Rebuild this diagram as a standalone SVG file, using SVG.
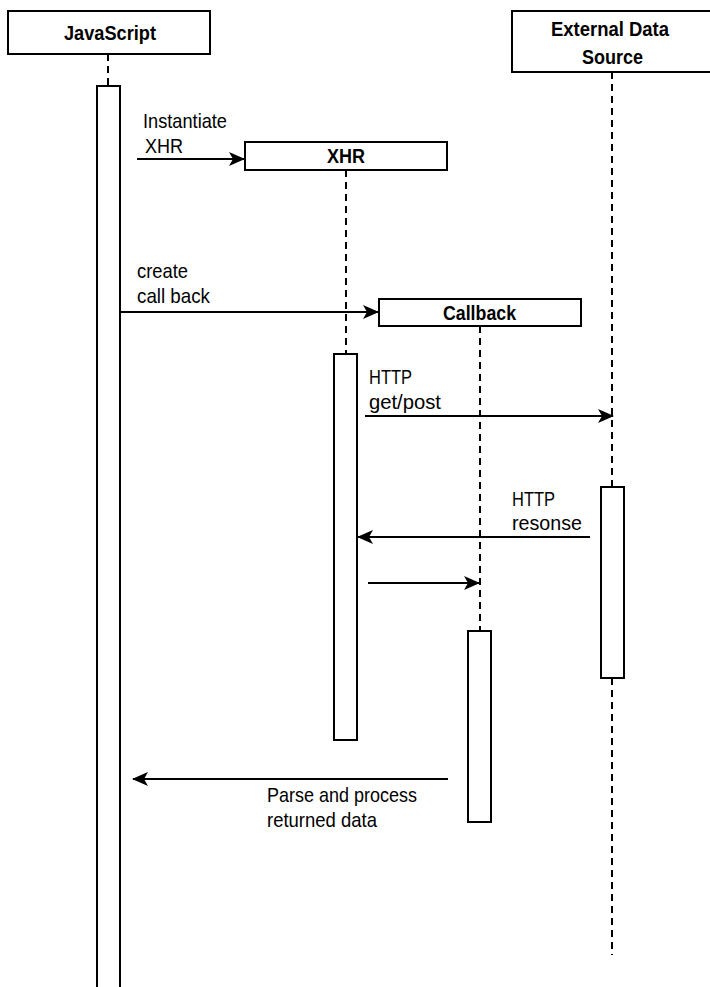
<svg xmlns="http://www.w3.org/2000/svg" width="710" height="987" viewBox="0 0 710 987">
<style>
.box{fill:#fff;stroke:#000;stroke-width:2}
.life{stroke:#000;stroke-width:2;stroke-dasharray:7 5;fill:none}
.msg{stroke:#000;stroke-width:2;fill:none;marker-end:url(#ah)}
.t{font-family:"Liberation Sans",Arial,sans-serif;font-size:21px;fill:#000}
.b{font-weight:bold;font-size:20px}
</style>
<defs>
<marker id="ah" markerWidth="16" markerHeight="14" refX="15" refY="7" orient="auto" markerUnits="userSpaceOnUse">
<path d="M0,0 L16,7 L0,14 L4,7 Z" fill="#000"/>
</marker>
</defs>
<rect width="710" height="987" fill="#fff"/>
<g id="lifelines">
<line class="life" x1="108" y1="54" x2="108" y2="86"/>
<line class="life" x1="346" y1="170" x2="346" y2="354"/>
<line class="life" x1="480" y1="326" x2="480" y2="630"/>
<line class="life" x1="612" y1="72" x2="612" y2="486"/>
<line class="life" x1="612" y1="678" x2="612" y2="955"/>
</g>
<g id="javascript">
<rect class="box" x="8" y="11" width="202" height="43"/>
<text class="t b" x="64" y="40" textLength="92" lengthAdjust="spacingAndGlyphs">JavaScript</text>
<rect class="box" x="97" y="86" width="23" height="910"/>
</g>
<g id="external">
<rect class="box" x="512" y="11" width="210" height="61"/>
<text class="t b" x="551" y="36" textLength="118" lengthAdjust="spacingAndGlyphs">External Data</text>
<text class="t b" x="582" y="64" textLength="61" lengthAdjust="spacingAndGlyphs">Source</text>
<rect class="box" x="601" y="487" width="23" height="191"/>
</g>
<g id="xhr">
<rect class="box" x="245" y="142" width="202" height="28"/>
<text class="t b" x="327" y="163" textLength="38" lengthAdjust="spacingAndGlyphs">XHR</text>
<rect class="box" x="334" y="354" width="23" height="386"/>
</g>
<g id="callback">
<rect class="box" x="379" y="299" width="202" height="27"/>
<text class="t b" x="443" y="320" textLength="73" lengthAdjust="spacingAndGlyphs">Callback</text>
<rect class="box" x="468" y="631" width="23" height="191"/>
</g>
<g id="connectors">
<line class="msg" x1="137" y1="159" x2="244" y2="159"/>
<line class="msg" x1="120" y1="312" x2="378" y2="312"/>
<line class="msg" x1="365" y1="416" x2="613" y2="416"/>
<line class="msg" x1="590" y1="537" x2="358" y2="537"/>
<line class="msg" x1="368" y1="583" x2="479" y2="583"/>
<line class="msg" x1="448" y1="779" x2="133" y2="779"/>
</g>
<g id="labels">
<text class="t" x="143" y="128" textLength="84" lengthAdjust="spacingAndGlyphs">Instantiate</text>
<text class="t" x="145" y="153" textLength="38" lengthAdjust="spacingAndGlyphs">XHR</text>
<text class="t" x="137" y="278" textLength="51" lengthAdjust="spacingAndGlyphs">create</text>
<text class="t" x="137" y="303" textLength="73" lengthAdjust="spacingAndGlyphs">call back</text>
<text class="t" x="369" y="384" textLength="43" lengthAdjust="spacingAndGlyphs">HTTP</text>
<text class="t" x="369" y="409" textLength="72" lengthAdjust="spacingAndGlyphs">get/post</text>
<text class="t" x="512" y="506" textLength="43" lengthAdjust="spacingAndGlyphs">HTTP</text>
<text class="t" x="512" y="530" textLength="70" lengthAdjust="spacingAndGlyphs">resonse</text>
<text class="t" x="267" y="802" textLength="150" lengthAdjust="spacingAndGlyphs">Parse and process</text>
<text class="t" x="267" y="827" textLength="110" lengthAdjust="spacingAndGlyphs">returned data</text>
</g>
</svg>
